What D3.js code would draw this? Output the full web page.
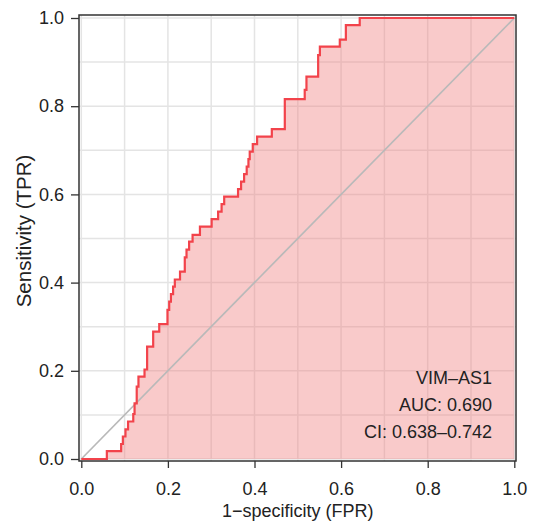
<!DOCTYPE html>
<html>
<head>
<meta charset="utf-8">
<script src="https://cdn.jsdelivr.net/npm/d3@7"></script>
<style>
  html, body { margin: 0; padding: 0; background: #fff; }
  svg { display: block; font-family: "Liberation Sans", Arial, Helvetica, sans-serif; }
</style>
</head>
<body>
<svg id="roc" width="533" height="523"></svg>
<script>
// ROC curve points (1-specificity, sensitivity)
const fpr = [0, 0.059, 0.092, 0.096, 0.102, 0.108, 0.120, 0.123, 0.128, 0.132,
  0.146, 0.152, 0.166, 0.180, 0.199, 0.203, 0.207, 0.212, 0.216, 0.228,
  0.239, 0.243, 0.249, 0.257, 0.274, 0.301, 0.316, 0.324, 0.330, 0.362,
  0.369, 0.376, 0.382, 0.386, 0.389, 0.396, 0.406, 0.440, 0.470, 0.516,
  0.520, 0.547, 0.551, 0.597, 0.611, 0.643, 1.0];
const tpr = [0, 0.018, 0.034, 0.051, 0.067, 0.085, 0.102, 0.126, 0.164, 0.187,
  0.203, 0.255, 0.289, 0.306, 0.338, 0.357, 0.374, 0.391, 0.407, 0.425,
  0.457, 0.475, 0.493, 0.508, 0.527, 0.544, 0.561, 0.578, 0.595, 0.612,
  0.629, 0.646, 0.663, 0.680, 0.697, 0.714, 0.731, 0.748, 0.816, 0.837,
  0.867, 0.916, 0.935, 0.951, 0.984, 1.0, 1.0];

// Axis ticks and annotation text
const tickValues = [0, 0.2, 0.4, 0.6, 0.8, 1.0];
const gridValues = d3.range(0, 1.0001, 0.1);
const labels = ['VIM\u2013AS1', 'AUC: 0.690', 'CI: 0.638\u20130.742'];

const svg = d3.select('#roc');

// Scales - data range maps onto the inner plot area
const x = d3.scaleLinear().domain([0, 1]).range([81.3, 514.3]);
const y = d3.scaleLinear().domain([0, 1]).range([459, 18]);

const points = fpr.map((d, i) => ({ fpr: d, tpr: tpr[i] }));

// Grid lines every 0.1
const grid = svg.append('g');
grid.selectAll('line.gx')
  .data(gridValues)
  .enter()
  .append('line')
  .attr('x1', d => x(d)).attr('x2', d => x(d))
  .attr('y1', 15).attr('y2', 461)
  .attr('stroke', '#e4e4e4')
  .attr('stroke-width', 1.5);
grid.selectAll('line.gy')
  .data(gridValues)
  .enter()
  .append('line')
  .attr('y1', d => y(d)).attr('y2', d => y(d))
  .attr('x1', 79).attr('x2', 516)
  .attr('stroke', '#e4e4e4')
  .attr('stroke-width', 1.5);

// Filled area under the step curve
const area = d3.area()
  .x(d => x(d.fpr))
  .y0(y(0))
  .y1(d => y(d.tpr))
  .curve(d3.curveStepAfter);

svg.append('path')
  .datum(points)
  .attr('d', area)
  .attr('fill', '#f08080')
  .attr('fill-opacity', 0.42);

// Chance diagonal
svg.append('line')
  .attr('x1', x(0)).attr('y1', y(0))
  .attr('x2', x(1)).attr('y2', y(1))
  .attr('stroke', '#b9b9b9')
  .attr('stroke-width', 1.7);

// ROC step line
const line = d3.line()
  .x(d => x(d.fpr))
  .y(d => y(d.tpr))
  .curve(d3.curveStepAfter);

svg.append('path')
  .datum(points)
  .attr('d', line)
  .attr('fill', 'none')
  .attr('stroke', '#f2434b')
  .attr('stroke-width', 2.2);

// Frame around the plot
svg.append('rect')
  .attr('x', 79).attr('y', 15)
  .attr('width', 437).attr('height', 446)
  .attr('fill', 'none')
  .attr('stroke', '#333')
  .attr('stroke-width', 1.5);

// Axes (ticks outside the frame)
const xAxis = d3.axisBottom(x)
  .tickValues(tickValues)
  .tickFormat(d3.format('.1f'))
  .tickSize(7)
  .tickPadding(14);

const yAxis = d3.axisLeft(y)
  .tickValues(tickValues)
  .tickFormat(d3.format('.1f'))
  .tickSize(8)
  .tickPadding(7);

const gx = svg.append('g')
  .attr('transform', 'translate(0,461)')
  .call(xAxis);
const gy = svg.append('g')
  .attr('transform', 'translate(79,0)')
  .call(yAxis);

[gx, gy].forEach(g => {
  g.select('.domain').remove();
  g.selectAll('.tick line').attr('stroke', '#333').attr('stroke-width', 1.3);
  g.selectAll('.tick text')
    .attr('fill', '#222')
    .style('font-size', '18px')
    .style('font-family', '"Liberation Sans", Arial, sans-serif');
});

// Axis titles
svg.append('text')
  .attr('x', (x(0) + x(1)) / 2)
  .attr('y', 517)
  .attr('text-anchor', 'middle')
  .attr('fill', '#222')
  .style('font-size', '18px')
  .text('1\u2212specificity (FPR)');

svg.append('text')
  .attr('transform', 'translate(31,231) rotate(-90)')
  .attr('text-anchor', 'middle')
  .attr('fill', '#222')
  .style('font-size', '20.5px')
  .text('Sensitivity (TPR)');

// Annotation in the lower right
svg.selectAll('text.note')
  .data(labels)
  .enter()
  .append('text')
  .attr('class', 'note')
  .attr('x', 492)
  .attr('y', (d, i) => 384 + i * 27)
  .attr('text-anchor', 'end')
  .attr('fill', '#222')
  .style('font-size', '18px')
  .text(d => d);
</script>
</body>
</html>
